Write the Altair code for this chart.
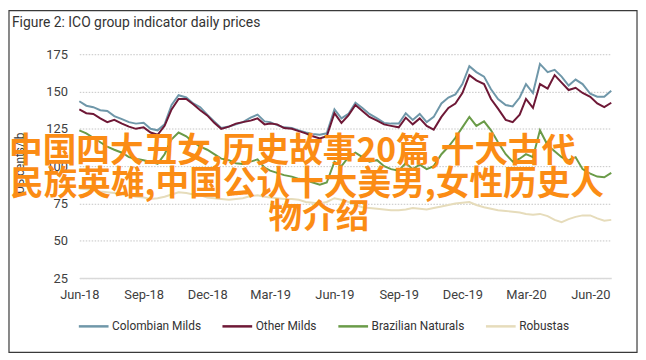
import altair as alt
import pandas as pd

# ---------------- data ----------------
months = [(2018, m) for m in range(6, 13)] + [(2019, m) for m in range(1, 13)] + [(2020, m) for m in range(1, 7)]
dates = [f"{y}-{m:02d}-{d:02d}T00:00" for (y, m) in months for d in (1, 11, 21)] + ["2020-07-01T00:00"]

colombian = [143.5, 140.5, 139.5, 137.5, 137, 133.5,
             131.5, 129.5, 128.5, 129, 125, 124,
             128, 141, 147.5, 146, 142, 139.5,
             134.5, 130, 125.5, 126.5, 128, 129.5,
             132.5, 134.5, 130, 129.5, 127.5, 126,
             125.5, 124, 122.5, 121.5, 121, 122,
             138, 132, 135, 142.5, 139, 135,
             132, 129, 128.5, 128.5, 135.5, 131,
             135, 129.5, 133, 142, 146, 148,
             155, 167, 163, 160, 151.5, 145,
             141, 140, 146, 155, 149, 168.5,
             163, 164.5, 160, 154, 158, 155,
             148.5, 146.5, 146.5, 150.5]

other = [138, 135.5, 135, 132, 129.5, 131,
         128.5, 126.5, 125, 126, 122.5, 121,
         127, 138, 145, 145, 141.5, 137.5,
         134, 129, 125, 126.5, 128.5, 129.5,
         130.5, 132, 128, 128.5, 128, 125.5,
         125, 123.5, 122, 120, 118.5, 120,
         135.5, 129, 134, 141, 137, 133,
         130.5, 128, 127, 126, 132.5, 128,
         132, 127, 124.5, 133, 139, 142,
         149, 161, 157.5, 155, 145, 138.5,
         131, 129.5, 134.5, 145, 139, 155,
         152, 161, 156, 151, 152.5, 149,
         146.5, 142, 139.5, 142.5]

brazilian = [124, 122, 119, 116, 113, 111,
             109, 106, 105, 104, 103, 101.5,
             108, 118, 122.5, 120, 116, 113,
             111, 108, 105, 104, 102, 101.5,
             103, 104.5, 99, 97, 95.5, 94,
             93, 91.5, 90.5, 89, 87.5, 89,
             103, 100, 106, 109, 106, 103,
             104, 100, 98, 97, 102, 98,
             101, 98, 100, 108, 113, 119,
             126, 133, 127, 130, 124, 116,
             108, 103, 105, 108, 106, 124,
             114, 110, 106, 104, 106, 98,
             95, 93, 92.5, 95.5]

robustas = [85, 84.5, 84, 83, 82.5, 82,
            81, 80.5, 79.5, 79, 78, 78.5,
            79.5, 81, 82.5, 82, 81, 80.5,
            79, 78.5, 78, 77.5, 78, 78.5,
            80, 80.5, 79.5, 79, 78.5, 78,
            78, 77.5, 76, 75.5, 75, 76,
            78.5, 77.5, 76, 74, 72.5, 72,
            71.5, 71, 70.5, 70.5, 71, 72,
            71.5, 71, 72, 73, 74, 75,
            75.5, 76, 74, 72.5, 71.5, 70.5,
            70, 69.5, 69, 68, 67.5, 68,
            66.5, 64, 62.5, 64.5, 66, 67,
            67, 65, 63.5, 64]

series_names = ["Colombian Milds", "Other Milds", "Brazilian Naturals", "Robustas"]
series_colors = ["#6f97a9", "#6e1836", "#6a9b48", "#e6dcbb"]

y_ticks = [25, 50, 75, 100, 125, 150, 175]
x_tick_dates = [(2018, 6), (2018, 9), (2018, 12), (2019, 3), (2019, 6), (2019, 9), (2019, 12), (2020, 3), (2020, 6)]

title_text = "Figure 2: ICO group indicator daily prices"
y_title = "US cents/lb"
overlay_lines = ["中国四大丑女,历史故事20篇,十大古代",
                 "民族英雄,中国公认十大美男,女性历史人",
                 "物介绍"]

rows = []
for name, vals in zip(series_names, [colombian, other, brazilian, robustas]):
    for d, v in zip(dates, vals):
        rows.append({"date": d, "series": name, "value": v})
df = pd.DataFrame(rows)

FONT = "Roboto"

lines = alt.Chart(df).mark_line(strokeWidth=2).encode(
    x=alt.X("date:T",
            scale=alt.Scale(domain=[alt.DateTime(year=2018, month=6, date=1),
                                    alt.DateTime(year=2020, month=7, date=1)]),
            axis=alt.Axis(values=[alt.DateTime(year=y, month=m, date=1) for (y, m) in x_tick_dates],
                          format="%b-%y", title=None, ticks=False, grid=False,
                          labelFlush=False, labelOverlap=False,
                          domainColor="#d9d9d9", domainWidth=1.5,
                          labelFont=FONT, labelFontSize=13, labelColor="#404040",
                          labelPadding=11)),
    y=alt.Y("value:Q",
            scale=alt.Scale(domain=[25, 175], nice=False, zero=False),
            axis=alt.Axis(values=y_ticks, title=None, ticks=False, domain=False,
                          grid=True, gridColor="#c4c4c4", gridDash=[1.5, 1.5], gridWidth=1,
                          labelFont=FONT, labelFontSize=13, labelColor="#404040",
                          labelPadding=12)),
    color=alt.Color("series:N",
                    scale=alt.Scale(domain=series_names, range=series_colors),
                    sort=series_names,
                    legend=alt.Legend(title=None, orient="none", direction="horizontal",
                                      legendX=-2, legendY=258,
                                      symbolType="stroke", symbolSize=900, symbolStrokeWidth=2.5,
                                      labelFont=FONT, labelFontSize=12, labelColor="#333333",
                                      labelOffset=2, columnPadding=16)),
)

title = alt.Chart(pd.DataFrame({"t": [title_text]})).mark_text(
    align="left", baseline="middle", font=FONT, fontSize=14, color="#333333"
).encode(text="t:N", x=alt.value(-68), y=alt.value(-31))

ytitle = alt.Chart(pd.DataFrame({"t": [y_title]})).mark_text(
    align="center", baseline="middle", font=FONT, fontSize=12, color="#404040", angle=270
).encode(text="t:N", x=alt.value(-60), y=alt.value(110))

frame = alt.Chart(pd.DataFrame({"k": [0]})).mark_rect(
    fillOpacity=0, stroke="#3a3a3a", strokeWidth=1.2
).encode(x=alt.value(-71), x2=alt.value(563), y=alt.value(-44), y2=alt.value(301))

orange = "#fb8c14"
ov1 = alt.Chart(pd.DataFrame({"t": [overlay_lines[0]]})).mark_text(
    align="left", baseline="middle", font="Noto Sans CJK SC", fontSize=34, fontWeight="bold", color=orange
).encode(text="t:N", x=alt.value(-71), y=alt.value(99))
ov2 = alt.Chart(pd.DataFrame({"t": [overlay_lines[1]]})).mark_text(
    align="left", baseline="middle", font="Noto Sans CJK SC", fontSize=34, fontWeight="bold", color=orange
).encode(text="t:N", x=alt.value(-70), y=alt.value(132))
ov3 = alt.Chart(pd.DataFrame({"t": [overlay_lines[2]]})).mark_text(
    align="center", baseline="middle", font="Noto Sans CJK SC", fontSize=34, fontWeight="bold", color=orange
).encode(text="t:N", x=alt.value(242), y=alt.value(165))

chart = alt.layer(frame, lines, title, ytitle, ov1, ov2, ov3).properties(
    width=537, height=226,
    autosize=alt.AutoSizeParams(type="none"),
    padding={"left": 72, "top": 45, "right": 27, "bottom": 76},
    background="white",
).configure_view(stroke=None)

chart.save("out.html", embed_options={"renderer": "svg", "actions": False})
